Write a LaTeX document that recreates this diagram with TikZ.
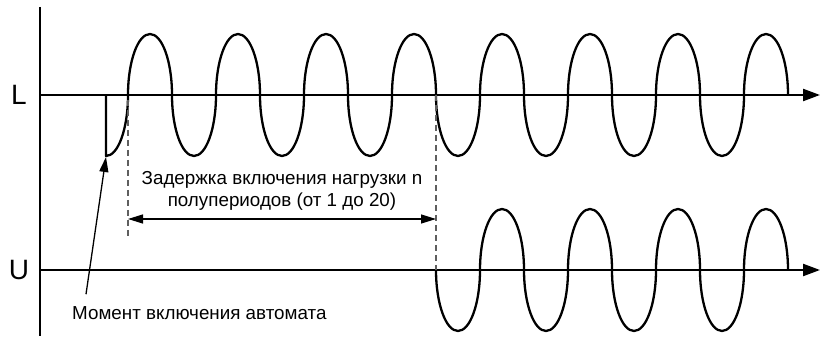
\documentclass[tikz,border=0pt]{standalone}
\usepackage{fontspec}
\setmainfont{Liberation Sans}
\usetikzlibrary{arrows.meta,positioning,calc}
\definecolor{cLine}{RGB}{0,0,0}
\definecolor{cDash}{RGB}{95,95,95}
\tikzset{
  axisline/.style={line width=2.3pt,color=cLine},
  axisarr/.style={axisline,-{Triangle[length=17pt,width=12pt]}},
  wave/.style={line width=2.3pt,color=cLine,line join=round},
  dashln/.style={line width=1.2pt,color=cDash,dash pattern=on 6pt off 4pt},
  dimarr/.style={line width=1.3pt,
                 {Triangle[length=15pt,width=9pt]}-{Triangle[length=15pt,width=9pt]}},
  ptrarr/.style={line width=1.3pt,-{Triangle[length=15pt,width=9pt]}},
  axlabel/.style={inner sep=0pt,font=\fontsize{28}{30}\selectfont},
  note/.style={inner sep=0pt,align=center,font=\fontsize{18.8}{21.5}\selectfont}
}
\begin{document}
\begin{tikzpicture}[x=1pt,y=1pt]
  \useasboundingbox (0,0) rectangle (832,340);

  % axes
  \draw[axisline] (40,333) -- (40,4);
  \coordinate (l0) at (40,245);
  \coordinate (l1) at (820,245);
  \coordinate (u0) at (40,70);
  \coordinate (u1) at (820,70);
  \draw[axisarr] (l0) -- (l1);
  \draw[axisarr] (u0) -- (u1);
  \node[axlabel] (lbl) at (19,245) {L};
  \node[axlabel] (ulbl) at (19,70) {U};

  % line voltage: switch-on moment, then 15 half-periods
  \coordinate (swon) at (106,184);
  \draw[wave] (106,245) -- (swon)
    arc[start angle=270,end angle=360,x radius=22pt,y radius=61pt]
    \foreach \k [evaluate=\k as \d using {180*(2*mod(\k,2)-1)}] in {0,...,14}
      { arc[start angle=180,delta angle=\d,x radius=22pt,y radius=61pt] };

  % load voltage: 8 half-periods after the delay
  \draw[wave] (436,70)
    \foreach \k [evaluate=\k as \d using {-180*(2*mod(\k,2)-1)}] in {0,...,7}
      { arc[start angle=180,delta angle=\d,x radius=22pt,y radius=61pt] };

  % delay
  \coordinate (d0) at (128,240);
  \coordinate (d0b) at (128,103);
  \coordinate (d1) at (436,245);
  \coordinate (d1b) at (436,70);
  \draw[dashln] (d0) -- (d0b);
  \draw[dashln] (d1) -- (d1b);
  \draw[dimarr] (128,121) -- (436,121);
  \node[note] (delay) at (282,149)
      {Задержка включения нагрузки n\\полупериодов (от 1 до 20)};

  \node[note,anchor=west] (mom) at (72,27) {Момент включения автомата};
  \draw[ptrarr] ([shift={(14pt,12pt)}]mom.north west) -- ([yshift=-1pt]swon);
\end{tikzpicture}
\end{document}
